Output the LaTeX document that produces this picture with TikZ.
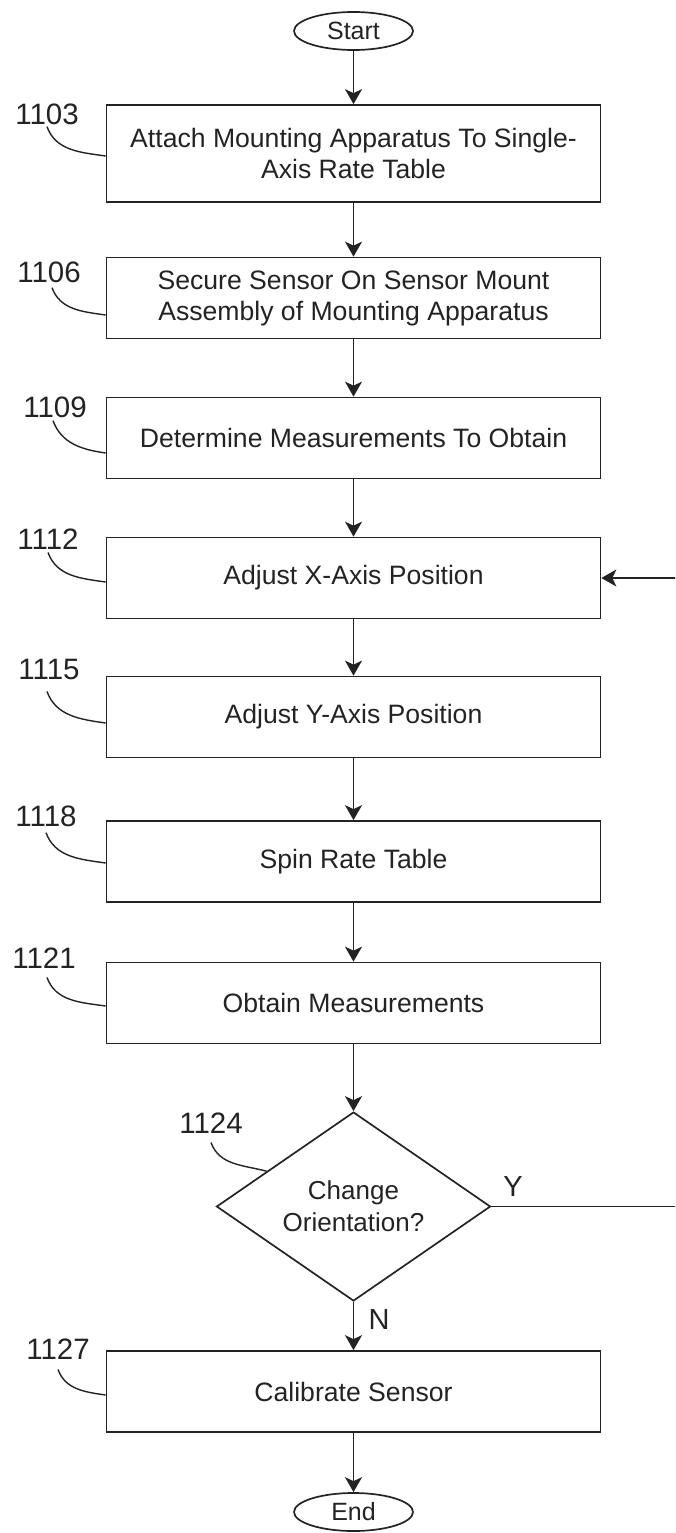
\documentclass[tikz,border=0pt]{standalone}
\usepackage{fontspec}
\setmainfont{Liberation Sans}
\usetikzlibrary{shapes.geometric,arrows.meta,calc}
\definecolor{ink}{RGB}{35,35,35}
\begin{document}
\begin{tikzpicture}[x=1pt,y=-1pt,
  stepbox/.style={draw=ink, line width=1.7pt, minimum width=494pt, minimum height=81pt,
    inner sep=0pt, align=center, text=ink, font=\fontsize{26.6}{31}\selectfont},
  terminal/.style={ellipse, draw=ink, line width=1.7pt, minimum width=119pt, minimum height=38pt,
    inner sep=0pt, text=ink, font=\fontsize{25}{30}\selectfont},
  decision/.style={diamond, draw=ink, line width=1.7pt, minimum width=274pt, minimum height=189pt,
    shape aspect=1.45, inner sep=0pt, align=center, text=ink, font=\fontsize{26}{32}\selectfont},
  flow/.style={draw=ink, line width=1.7pt, -{Stealth[length=15pt,width=17pt,inset=4pt]}},
  refnum/.style={inner sep=0pt, text=ink, font=\fontsize{29.5}{29.5}\selectfont},
  branch/.style={inner sep=0pt, text=ink, font=\fontsize{29}{29}\selectfont},
  leader/.style={draw=ink, line width=1.4pt}]
\useasboundingbox (0,0) rectangle (675,1533);
\clip (0,0) rectangle (675,1533);

% flow steps
\node[terminal] (start) at (353.5,31) {Start};
\node[stepbox, minimum height=97pt] (s1103) at (353.5,153.5) {Attach Mounting Apparatus To Single-\\Axis Rate Table};
\node[stepbox] (s1106) at (353.5,298) {Secure Sensor On Sensor Mount\\Assembly of Mounting Apparatus};
\node[stepbox] (s1109) at (353.5,438) {Determine Measurements To Obtain};
\node[stepbox] (s1112) at (353.5,578) {Adjust X-Axis Position};
\node[stepbox] (s1115) at (353.5,717) {Adjust Y-Axis Position};
\node[stepbox] (s1118) at (353.5,861.5) {Spin Rate Table};
\node[stepbox] (s1121) at (353.5,1003) {Obtain Measurements};
\node[decision] (d1124) at (353.5,1206.5) {Change\\Orientation?};
\node[stepbox] (s1127) at (353.5,1391.5) {Calibrate Sensor};
\node[terminal] (end) at (353.5,1512) {End};

% reference numerals
\node[refnum] (l1103) at (47,114) {1103};
\node[refnum] (l1106) at (49,272) {1106};
\node[refnum] (l1109) at (55,407) {1109};
\node[refnum] (l1112) at (48,539) {1112};
\node[refnum] (l1115) at (49,669) {1115};
\node[refnum] (l1118) at (46,816) {1118};
\node[refnum] (l1121) at (44,958) {1121};
\node[refnum] (l1124) at (211,1123) {1124};
\node[refnum] (l1127) at (58,1349) {1127};

% branch labels
\node[branch] (yes) at (513,1187) {Y};
\node[branch] (no) at (379,1320) {N};

% connectors
\draw[flow] (start) -- (s1103);
\draw[flow] (s1103) -- (s1106);
\draw[flow] (s1106) -- (s1109);
\draw[flow] (s1109) -- (s1112);
\draw[flow] (s1112) -- (s1115);
\draw[flow] (s1115) -- (s1118);
\draw[flow] (s1118) -- (s1121);
\draw[flow] (s1121) -- (d1124);
\draw[flow] (d1124) -- (s1127);
\draw[flow] (s1127) -- (end);
\draw[flow] (d1124.east) -- ++(215,0) |- (s1112.east);

% leader lines from numerals to their steps
\draw[leader] ([yshift=-2pt]l1103.south) to[out=-70,in=172] ([yshift=-2.5pt]s1103.west);
\draw[leader] ([xshift=3pt,yshift=-5pt]l1106.south) to[out=-70,in=172] ([yshift=-17pt]s1106.west);
\draw[leader] ([xshift=-2pt,yshift=-3pt]l1109.south) to[out=-70,in=172] ([yshift=-15pt]s1109.west);
\draw[leader] ([yshift=-3pt]l1112.south) to[out=-70,in=172] ([yshift=-4pt]s1112.west);
\draw[leader] ([xshift=-2pt,yshift=-12pt]l1115.south) to[out=-70,in=172] ([yshift=-6pt]s1115.west);
\draw[leader] ([yshift=-6pt]l1118.south) to[out=-70,in=172] ([yshift=-1.5pt]s1118.west);
\draw[leader] ([xshift=3pt,yshift=-9pt]l1121.south) to[out=-70,in=172] ([yshift=-3pt]s1121.west);
\draw[leader] ([yshift=-9pt]l1124.south) to[out=-70,in=165] ($(d1124.west)!0.37!(d1124.north)$);
\draw[leader] ([yshift=-10pt]l1127.south) to[out=-70,in=172] ([yshift=-3.5pt]s1127.west);
\end{tikzpicture}
\end{document}
